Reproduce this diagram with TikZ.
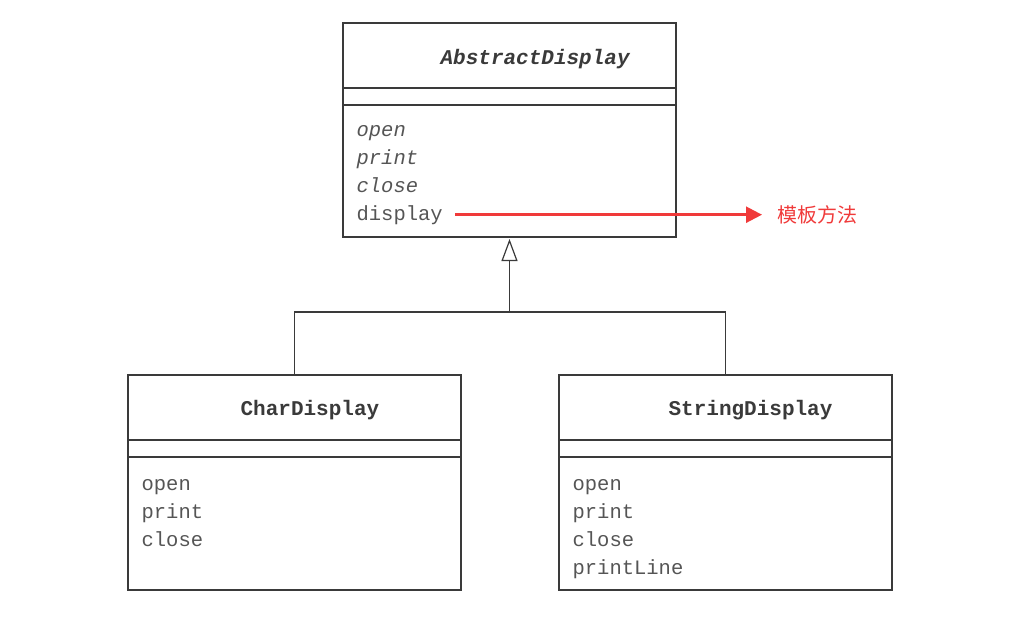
\documentclass[tikz,border=0pt]{standalone}
\usepackage{fontspec}
\setmonofont{Liberation Mono}
\newfontfamily\cjk{Noto Sans CJK SC}
\usetikzlibrary{arrows.meta,positioning}
\definecolor{boxgray}{HTML}{3A3A3A}
\definecolor{methodgray}{HTML}{555555}
\definecolor{tmplred}{HTML}{F03A3A}

\begin{document}
\begin{tikzpicture}[x=1pt, y=-1pt, line width=1.2pt,
    compart/.style={rectangle, draw=boxgray, minimum width=333pt, inner sep=0pt, outer sep=0pt},
    classname/.style={anchor=base west, inner sep=0pt, text=boxgray, font=\fontsize{21}{24}\selectfont\ttfamily\bfseries},
    method/.style={anchor=base west, inner sep=0pt, text=methodgray, font=\fontsize{20.5}{24}\selectfont\ttfamily},
    abstract/.style={method, font=\fontsize{20.5}{24}\selectfont\ttfamily\itshape}]

        \useasboundingbox (0,0) rectangle (1031,619);

        % AbstractDisplay
        \node[compart, minimum height=65pt] (ad-title) at (509.5,55.5) {};
        \node[compart, minimum height=17pt, below=0pt of ad-title] (ad-attr) {};
        \node[compart, minimum height=132pt, below=0pt of ad-attr] (ad-methods) {};
        \node[classname] (ad-name) at (440,64) {\itshape AbstractDisplay};
        \node[abstract] (ad-open) at (356,136) {open};
        \node[abstract] (ad-print) at (356,164) {print};
        \node[abstract] (ad-close) at (356,192) {close};
        \node[method] (ad-display) at (356,220) {display};

        % CharDisplay
        \node[compart, minimum height=65pt] (cd-title) at (294.5,407.5) {};
        \node[compart, minimum height=17pt, below=0pt of cd-title] (cd-attr) {};
        \node[compart, minimum height=133pt, below=0pt of cd-attr] (cd-methods) {};
        \node[classname] (cd-name) at (240,415) {CharDisplay};
        \node[method] (cd-open) at (141,490) {open};
        \node[method] (cd-print) at (141,518) {print};
        \node[method] (cd-close) at (141,546) {close};

        % StringDisplay
        \node[compart, minimum height=65pt] (sd-title) at (725.5,407.5) {};
        \node[compart, minimum height=17pt, below=0pt of sd-title] (sd-attr) {};
        \node[compart, minimum height=133pt, below=0pt of sd-attr] (sd-methods) {};
        \node[classname] (sd-name) at (668,415) {StringDisplay};
        \node[method] (sd-open) at (572,490) {open};
        \node[method] (sd-print) at (572,518) {print};
        \node[method] (sd-close) at (572,546) {close};
        \node[method] (sd-printline) at (572,574) {printLine};

        % template method note
        \node[anchor=west, inner sep=0pt, text=tmplred, font=\fontsize{20}{24}\selectfont\cjk] (tmpl) at (777,215) {模板方法};
        \draw[tmplred, line width=2.5pt, -{Triangle[length=16pt, width=16pt]}, shorten <=12pt, shorten >=15pt]
            (ad-display.east) -- (ad-display.east -| tmpl.west);

        % inheritance
        \coordinate (jn) at (509.5,312);
        \draw[boxgray] (cd-title.north) |- (jn);
        \draw[boxgray] (sd-title.north) |- (jn);
        \draw[boxgray, -{Triangle[open, length=22pt, width=16pt]}, shorten >=2pt] (jn) -- (ad-methods.south);

\end{tikzpicture}
\end{document}
